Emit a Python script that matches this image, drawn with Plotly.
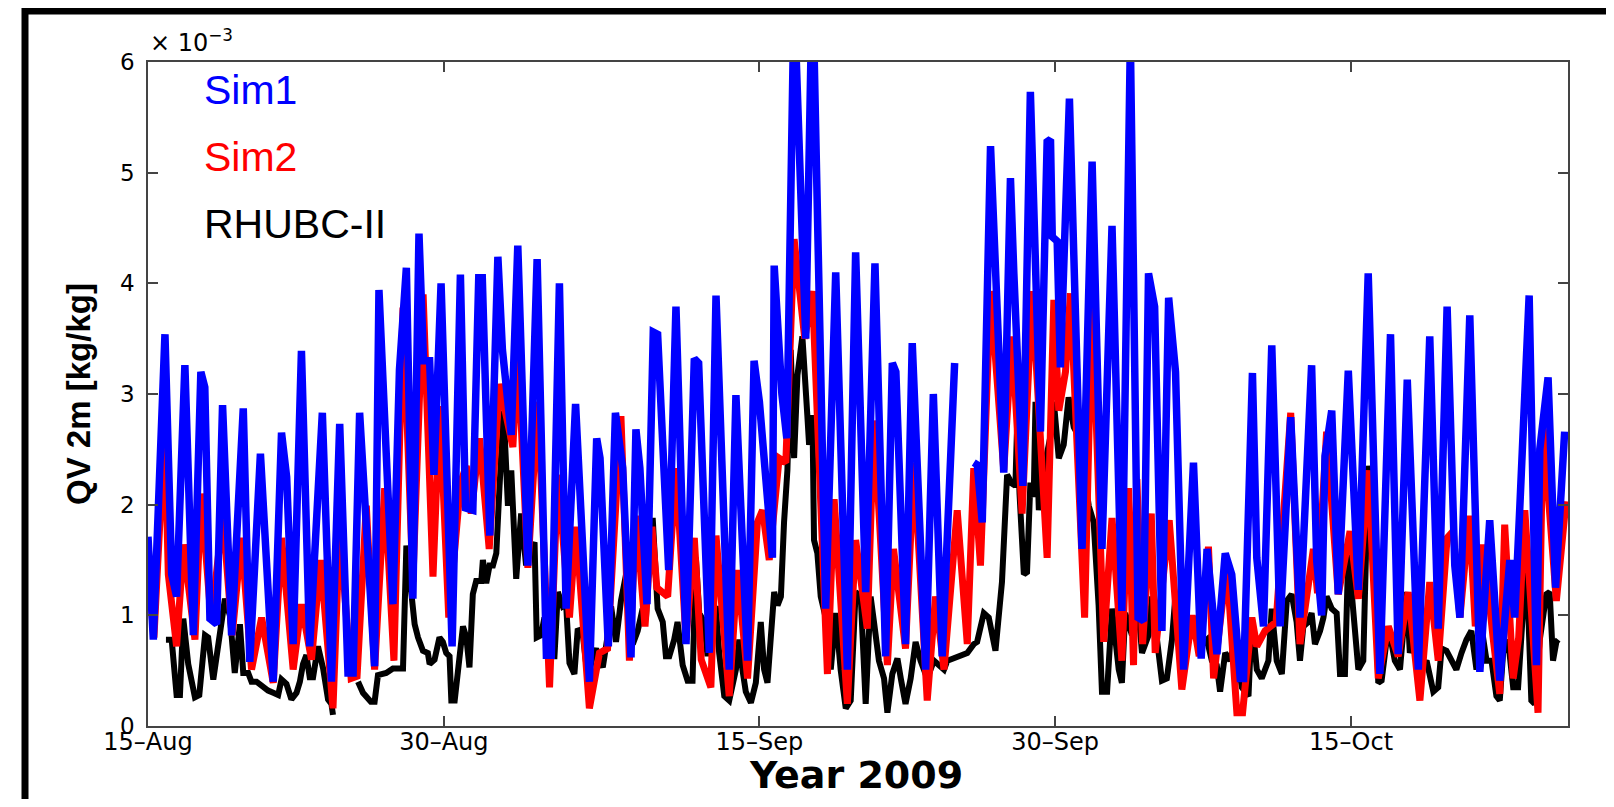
import pandas as pd
import plotly.graph_objects as go

# ---------------- data (days after 15-Aug-2009, QV in 1e-3 kg/kg) ----------------
sim1_pts = [
    (0, 1.71), (0.27, 0.78), (0.86, 3.54), (1.2, 1.37), (1.45, 1.17), (1.87, 3.26), (2.3, 0.82),
    (2.68, 3.2), (2.88, 3.06), (3.14, 0.97), (3.48, 0.92), (3.78, 2.9), (4.24, 0.82), (4.83, 2.87),
    (5.16, 0.58), (5.7, 2.46), (6.35, 0.4), (6.77, 2.65), (7.03, 2.25), (7.36, 0.74), (7.78, 3.39),
    (8.2, 0.72), (8.84, 2.83), (9.3, 0.4), (9.72, 2.73), (10.14, 0.48), (10.4, 0.48), (10.73, 2.83),
    (11.49, 0.54), (11.71, 3.94), (12.42, 1.1), (12.67, 3.22), (12.75, 3.22), (13.1, 4.14),
    (13.43, 1.15), (13.74, 4.45), (13.97, 3.3), (14.28, 3.3), (14.5, 2.27), (14.86, 4.0),
    (15.42, 0.72), (15.84, 4.08), (16.1, 1.97), (16.47, 1.95), (16.77, 4.05), (16.95, 4.05),
    (17.33, 1.72), (17.74, 4.24), (17.97, 3.4), (18.42, 2.63), (18.75, 4.34), (19.26, 1.45),
    (19.73, 4.22), (20.2, 0.64), (20.45, 0.64), (20.86, 4.0), (21.2, 1.06), (21.68, 2.91),
    (22.38, 0.4), (22.75, 2.6), (22.92, 2.42), (23.34, 0.72), (23.7, 2.83), (24.07, 2.33),
    (24.49, 0.62), (24.74, 2.68), (24.94, 2.33), (25.3, 1.1), (25.62, 3.56), (25.84, 3.54),
    (26.4, 1.41), (26.77, 3.79), (27.28, 0.74), (27.7, 3.32), (27.92, 3.28), (28.46, 0.66),
    (28.8, 3.89), (29.47, 0.51), (29.81, 2.99), (30.4, 0.59), (30.73, 3.3), (31.0, 2.93),
    (31.41, 1.95), (31.66, 1.52), (31.75, 4.16), (32.14, 3.0), (32.39, 2.6), (32.76, 6.6),
    (33.35, 3.5), (33.69, 6.8), (34.36, 1.06), (34.87, 4.1), (35.46, 0.51), (35.88, 4.28),
    (36.39, 1.21), (36.86, 4.18), (37.4, 0.63), (37.74, 3.28), (37.92, 3.2), (38.41, 0.74),
    (38.75, 3.46), (39.43, 0.51), (39.82, 3.0), (40.27, 0.63), (40.9, 3.28), (41.4, None),
    (41.87, 2.38), (42.05, 2.36), (42.3, 1.84), (42.72, 5.24), (43.39, 2.29), (43.73, 4.95),
    (43.9, 4.1), (44.36, 2.17), (44.74, 5.73), (45.25, 2.66), (45.59, 5.28), (45.76, 5.3),
    (45.85, 4.42), (46.1, 4.38), (46.26, 3.24), (46.72, 5.67), (47.36, 1.6), (47.87, 5.1),
    (48.37, 1.6), (48.88, 4.52), (49.38, 1.04), (49.81, 6.2), (50.2, 0.98), (50.48, 0.95),
    (50.73, 4.09), (51.04, 3.79), (51.41, 0.86), (51.75, 3.87), (52.1, 3.2), (52.51, 0.51),
    (53.01, 2.38), (53.4, 0.61), (53.7, 1.6), (54.2, 0.65), (54.62, 1.56), (54.95, 1.37),
    (55.38, 0.43), (55.55, 0.43), (56.0, 3.19), (56.22, 1.52), (56.56, 0.9), (56.98, 3.44),
    (57.4, 0.9), (57.94, 2.79), (58.41, 0.98), (59.0, 3.26), (59.26, 1.49), (59.51, 1.0),
    (59.68, 2.44), (60.02, 2.85), (60.35, 1.19), (60.86, 3.21), (61.37, 1.23), (61.87, 4.09),
    (62.46, 0.47), (63.0, 3.54), (63.39, 0.65), (63.85, 3.13), (64.41, 0.51), (64.99, 3.52),
    (65.42, 0.88), (65.87, 3.79), (66.26, 1.45), (66.52, 0.98), (67.02, 3.71), (67.53, 0.49),
    (68.03, 1.86), (68.54, 0.41), (69.05, 1.5), (69.3, 0.98), (69.55, 1.95), (70.03, 3.89),
    (70.4, 0.55), (70.57, 2.5), (70.99, 3.15), (71.37, 1.25), (71.83, 2.66),
]

sim2_pts = [
    (0, 1.45), (0.3, 0.8), (0.85, 2.7), (1.03, 1.37), (1.45, 0.72), (1.8, 1.64), (2.38, 0.78),
    (2.7, 2.1), (3.2, 0.95), (3.8, 1.9), (4.27, 0.82), (4.74, 1.7), (5.25, 0.51), (5.76, 0.98),
    (6.35, 0.39), (6.77, 1.7), (7.36, 0.51), (7.78, 1.1), (8.29, 0.6), (8.75, 1.5), (9.38, 0.16),
    (9.72, 1.8), (10.3, 0.43), (10.6, 0.45), (11.07, 1.99), (11.49, 0.51), (12.0, 2.15),
    (12.47, 0.59), (12.93, 3.78), (13.43, 1.3), (13.95, 3.9), (14.2, 2.75), (14.45, 1.35),
    (14.79, 2.89), (15.25, 0.98), (15.85, 2.2), (16.14, 2.35), (16.39, 1.92), (16.81, 2.6),
    (17.3, 1.6), (17.82, 3.09), (18.5, 2.52), (18.75, 3.4), (19.26, 1.43), (19.77, 2.93),
    (20.36, 0.35), (20.78, 2.27), (21.37, 0.98), (21.7, 1.8), (22.38, 0.16), (22.89, 0.66),
    (23.3, 0.7), (23.98, 2.8), (24.41, 0.59), (24.75, 1.9), (25.2, 0.9), (25.55, 1.8),
    (25.8, 1.25), (26.35, 1.17), (26.77, 2.33), (27.28, 0.78), (27.7, 1.7), (28.05, 0.6),
    (28.54, 0.35), (28.8, 1.72), (29.47, 0.27), (29.89, 1.41), (30.4, 0.43), (30.9, 1.84),
    (31.16, 1.95), (31.5, 1.5), (32.0, 2.42), (32.34, 2.38), (32.76, 4.4), (33.3, 3.5),
    (33.69, 3.93), (34.45, 0.47), (34.79, 2.05), (35.46, 0.2), (35.88, 1.68), (36.47, 0.88),
    (36.81, 2.76), (37.49, 0.55), (37.8, 1.6), (38.41, 0.7), (38.84, 2.38), (39.51, 0.23),
    (39.93, 1.17), (40.36, 0.51), (41.03, 1.95), (41.54, 0.74), (41.87, 2.33), (42.21, 1.45),
    (42.72, 3.93), (43.39, 2.31), (43.81, 3.52), (44.32, 1.92), (44.83, 3.93), (45.59, 1.52),
    (45.93, 3.85), (46.18, 2.85), (46.52, 3.2), (46.77, 3.91), (47.49, 0.98), (47.87, 3.85),
    (48.46, 0.76), (48.88, 1.88), (49.38, 0.59), (49.72, 2.15), (49.97, 0.55), (50.14, 2.23),
    (50.43, 0.74), (50.87, 1.92), (51.07, 0.66), (51.78, 1.86), (52.42, 0.33), (52.95, 1.0),
    (53.3, 0.63), (53.77, 1.62), (54.03, 0.43), (54.7, 1.45), (55.21, 0.12), (55.5, 0.12),
    (55.97, 0.98), (56.22, 0.72), (56.64, 0.86), (57.2, 0.94), (57.94, 2.83), (58.41, 0.74),
    (59.09, 1.6), (59.3, 1.2), (59.76, 2.66), (60.35, 1.19), (60.95, 1.76), (61.37, 1.15),
    (61.87, 2.31), (62.38, 0.43), (62.89, 0.9), (63.39, 0.63), (63.9, 1.21), (64.49, 0.23),
    (64.99, 1.3), (65.42, 0.59), (65.87, 1.7), (66.18, 1.76), (66.52, 0.98), (67.0, 1.9),
    (67.3, 0.9), (67.7, 1.64), (68.2, 0.8), (68.54, 0.29), (68.79, 1.82), (69.22, 0.43),
    (69.5, 0.8), (69.81, 1.95), (70.48, 0.12), (70.73, 2.72), (71.41, 1.13), (71.9, 2.03),
]

rhubc_pts = [
    (0.91, 0.78), (1.2, 0.78), (1.45, 0.28), (1.62, 0.28), (1.79, 0.97), (2.04, 0.56), (2.38, 0.26),
    (2.6, 0.28), (2.89, 0.82), (3.05, 0.8), (3.31, 0.42), (3.65, 0.88), (3.9, 1.15), (4.15, 1.0),
    (4.4, 0.48), (4.66, 0.92), (4.83, 0.48), (5.08, 0.48), (5.25, 0.4), (5.5, 0.4), (5.76, 0.36),
    (6.09, 0.32), (6.35, 0.3), (6.6, 0.28), (6.77, 0.42), (7.02, 0.38), (7.27, 0.24), (7.53, 0.3),
    (7.7, 0.4), (7.86, 0.56), (8.03, 0.64), (8.2, 0.44), (8.37, 0.44), (8.62, 0.72), (8.88, 0.52),
    (9.13, 0.24), (9.3, 0.2), (9.38, 0.1), (10.0, None), (10.65, 0.4), (10.9, 0.3), (11.3, 0.22),
    (11.49, 0.22), (11.66, 0.46), (12.08, 0.48), (12.42, 0.52), (12.93, 0.52), (13.1, 1.63),
    (13.52, 0.92), (13.69, 0.8), (13.94, 0.68), (14.19, 0.66), (14.28, 0.56), (14.53, 0.6),
    (14.78, 0.8), (14.95, 0.76), (15.12, 0.66), (15.29, 0.63), (15.38, 0.23), (15.55, 0.23),
    (15.71, 0.47), (15.97, 0.9), (16.14, 0.8), (16.3, 0.53), (16.47, 1.19), (16.64, 1.31),
    (16.9, 1.31), (16.98, 1.5), (17.15, 1.29), (17.32, 1.45), (17.49, 1.45), (17.66, 1.56),
    (17.82, 2.15), (18.03, 2.85), (18.25, 1.99), (18.42, 2.31), (18.67, 1.33), (18.92, 1.92),
    (19.17, 1.45), (19.35, 1.56), (19.6, 1.66), (19.71, 0.8), (19.93, 0.82), (20.1, 0.98),
    (20.36, 0.63), (20.61, 0.63), (20.78, 1.21), (21.03, 1.08), (21.2, 1.1), (21.37, 0.57),
    (21.62, 0.47), (21.79, 0.88), (22.05, 0.82), (22.3, 0.43), (22.55, 0.63), (22.72, 0.7),
    (22.89, 0.6), (23.06, 0.53), (23.31, 0.82), (23.48, 1.08), (23.73, 0.76), (23.98, 1.13),
    (24.24, 1.37), (24.41, 1.29), (24.58, 0.74), (24.83, 0.86), (25.08, 1.06), (25.25, 0.98),
    (25.42, 1.56), (25.59, 1.88), (25.84, 1.06), (26.1, 0.94), (26.26, 0.63), (26.43, 0.63),
    (26.68, 0.78), (26.85, 0.94), (27.11, 0.55), (27.36, 0.41), (27.61, 0.41), (27.78, 1.52),
    (27.95, 1.02), (28.2, 0.94), (28.37, 0.63), (28.63, 1.06), (28.8, 1.06), (28.96, 0.66),
    (29.22, 0.27), (29.47, 0.23), (29.81, 0.51), (29.98, 0.78), (30.14, 0.51), (30.31, 0.31),
    (30.57, 0.21), (30.82, 0.39), (31.07, 0.94), (31.24, 0.51), (31.41, 0.39), (31.58, 0.9),
    (31.75, 1.21), (31.92, 1.09), (32.09, 1.17), (32.25, 1.84), (32.42, 2.31), (32.59, 3.4),
    (32.76, 2.42), (32.93, 3.17), (33.18, 3.52), (33.43, 2.81), (33.52, 2.54), (33.69, 2.81),
    (33.77, 1.68), (33.94, 1.56), (34.11, 1.17), (34.36, 0.98), (34.62, 0.51), (34.87, 1.02),
    (35.12, 0.51), (35.38, 0.16), (35.63, 0.23), (35.88, 1.21), (36.14, 1.17), (36.39, 0.2),
    (36.64, 1.17), (36.81, 0.94), (37.06, 0.59), (37.32, 0.43), (37.49, 0.12), (37.74, 0.47),
    (38.0, 0.61), (38.17, 0.43), (38.41, 0.2), (38.67, 0.43), (38.92, 0.76), (39.17, 0.59),
    (39.51, 0.43), (39.85, 0.59), (40.36, 0.51), (40.53, 0.59), (40.86, 0.61), (41.2, 0.64),
    (41.54, 0.66), (41.87, 0.74), (42.04, 0.76), (42.38, 1.02), (42.63, 0.98), (42.97, 0.68),
    (43.14, 1.02), (43.3, 1.3), (43.56, 2.27), (43.81, 2.19), (43.98, 2.17), (44.07, 2.74),
    (44.19, 2.1), (44.41, 1.37), (44.57, 1.39), (44.74, 2.2), (44.91, 2.07), (45.0, 2.93),
    (45.17, 1.95), (45.4, 2.3), (45.76, 2.62), (45.93, 2.93), (46.18, 2.42), (46.43, 2.54),
    (46.68, 2.97), (46.94, 2.7), (47.19, 2.62), (47.45, 2.31), (47.7, 1.99), (47.95, 1.84),
    (48.2, 1.09), (48.37, 0.31), (48.63, 0.31), (48.88, 1.06), (49.22, 0.51), (49.38, 0.39),
    (49.55, 1.02), (49.89, 0.82), (50.14, 1.21), (50.4, 0.66), (50.73, 0.82), (50.9, 1.17),
    (51.16, 0.78), (51.41, 0.41), (51.66, 0.43), (51.92, 0.78), (52.09, 1.17), (52.34, 0.78),
    (52.59, 0.66), (52.85, 0.82), (53.1, 0.98), (53.44, 0.74), (53.69, 0.78), (53.94, 0.59),
    (54.19, 0.55), (54.36, 0.31), (54.62, 0.66), (54.87, 0.59), (55.12, 0.78), (55.46, 0.35),
    (55.8, 0.27), (55.97, 0.98), (56.22, 0.51), (56.47, 0.43), (56.81, 0.59), (56.98, 1.06),
    (57.23, 0.59), (57.49, 0.47), (57.66, 0.98), (57.74, 1.13), (57.99, 1.19), (58.24, 0.94),
    (58.41, 0.59), (58.58, 0.9), (58.83, 0.94), (59.0, 1.02), (59.17, 0.74), (59.43, 0.86),
    (59.6, 0.98), (59.76, 1.17), (60.02, 1.06), (60.27, 1.02), (60.44, 0.47), (60.69, 0.47),
    (60.86, 1.56), (61.03, 1.17), (61.2, 0.78), (61.37, 0.51), (61.62, 0.59), (61.87, 2.35),
    (62.13, 1.95), (62.38, 0.39), (62.55, 0.41), (62.89, 0.9), (63.22, 0.59), (63.48, 0.51),
    (63.82, 1.21), (63.98, 0.66), (64.24, 0.84), (64.49, 0.51), (64.83, 0.59), (65.17, 0.31),
    (65.42, 0.35), (65.59, 0.7), (65.84, 0.68), (66.09, 0.59), (66.34, 0.51), (66.6, 0.66),
    (66.85, 0.78), (67.1, 0.86), (67.36, 0.51), (67.61, 0.9), (67.87, 0.59), (68.12, 0.59),
    (68.37, 0.27), (68.54, 0.23), (68.71, 0.66), (68.96, 0.78), (69.22, 0.35), (69.47, 0.35),
    (69.64, 0.9), (69.89, 1.52), (70.14, 0.23), (70.31, 0.2), (70.57, 0.78), (70.9, 1.19),
    (71.07, 1.21), (71.24, 0.59), (71.41, 0.76), (71.5, 0.78),
]

tick_dates = ["2009-08-15", "2009-08-30", "2009-09-15", "2009-09-30", "2009-10-15"]
tick_text = ["15\u2013Aug", "30\u2013Aug", "15\u2013Sep", "30\u2013Sep", "15\u2013Oct"]
y_ticks = [0, 1, 2, 3, 4, 5, 6]

START = pd.Timestamp("2009-08-15")
END = START + pd.Timedelta(days=72)


def to_xy(pts):
    days = [p[0] for p in pts]
    vals = [p[1] for p in pts]
    x = [START + pd.Timedelta(days=d) for d in days]
    return x, vals


fig = go.Figure()
for pts, color, width, name in [
    (rhubc_pts, "black", 6, "RHUBC-II"),
    (sim2_pts, "#ff0000", 7, "Sim2"),
    (sim1_pts, "#0000ff", 7.5, "Sim1"),
]:
    x, y = to_xy(pts)
    fig.add_trace(go.Scatter(x=x, y=y, mode="lines", name=name,
                             line=dict(color=color, width=width),
                             connectgaps=False, hoverinfo="skip"))

axis_common = dict(showgrid=False, zeroline=False, showline=True, linecolor="#444",
                   linewidth=1.5, mirror="ticks", ticks="inside", ticklen=10,
                   tickcolor="#444", tickwidth=1.5)

fig.update_xaxes(type="date", range=[START, END], tickvals=[pd.Timestamp(d) for d in tick_dates],
                 ticktext=tick_text, tickfont=dict(family="DejaVu Sans", size=24, color="black"),
                 ticklabelstandoff=-7, **axis_common)
fig.update_yaxes(range=[0, 6], tickvals=y_ticks, ticktext=[str(v) for v in y_ticks],
                 tickfont=dict(family="DejaVu Sans", size=23, color="black"),
                 ticklabelstandoff=7, **axis_common)

# page geometry (the page body adds an 8px margin around the figure)
PAGE_W, PAGE_H, BODY = 1614, 807, 8
W, H = PAGE_W - 2 * BODY, PAGE_H - 2 * BODY
L, R, T, B = 148, 1568, 62, 726  # plot area on the page


def px(xp):
    return (xp - L) / (R - L)


def py(yp):
    return (B - yp) / (B - T)


annotations = [
    dict(text="\u00d7 10<sup>\u22123</sup>", x=px(148), y=py(59), xanchor="left", yanchor="bottom",
         font=dict(family="DejaVu Sans", size=24, color="black")),
    dict(text="Sim1", x=px(202), y=py(90), xanchor="left", yanchor="middle",
         font=dict(family="Liberation Sans, Arial, sans-serif", size=41, color="#0000ff")),
    dict(text="Sim2", x=px(202), y=py(157), xanchor="left", yanchor="middle",
         font=dict(family="Liberation Sans, Arial, sans-serif", size=41, color="#ff0000")),
    dict(text="RHUBC-II", x=px(202), y=py(224), xanchor="left", yanchor="middle",
         font=dict(family="Liberation Sans, Arial, sans-serif", size=41, color="black")),
    dict(text="<b>QV 2m [kg/kg]</b>", x=px(78), y=py(394), xanchor="center", yanchor="middle",
         textangle=-90, font=dict(family="Liberation Sans, Arial, sans-serif", size=33, color="black")),
    dict(text="<b>Year 2009</b>", x=px(856), y=py(775), xanchor="center", yanchor="middle",
         font=dict(family="DejaVu Sans", size=38, color="black")),
]
for a in annotations:
    a.update(xref="paper", yref="paper", showarrow=False)

frame_path = "M {x0},{yb} L {x0},{yt} L {xr},{yt}".format(
    x0=px(25), yb=py(830), yt=py(11), xr=px(1640))

fig.update_layout(
    width=W, height=H, autosize=False,
    margin=dict(l=L - BODY, r=W - (R - BODY), t=T - BODY, b=H - (B - BODY)),
    paper_bgcolor="white", plot_bgcolor="white", showlegend=False,
    annotations=annotations,
    shapes=[dict(type="path", path=frame_path, xref="paper", yref="paper",
                 line=dict(color="black", width=7))],
)

fig.write_html("out.html")
